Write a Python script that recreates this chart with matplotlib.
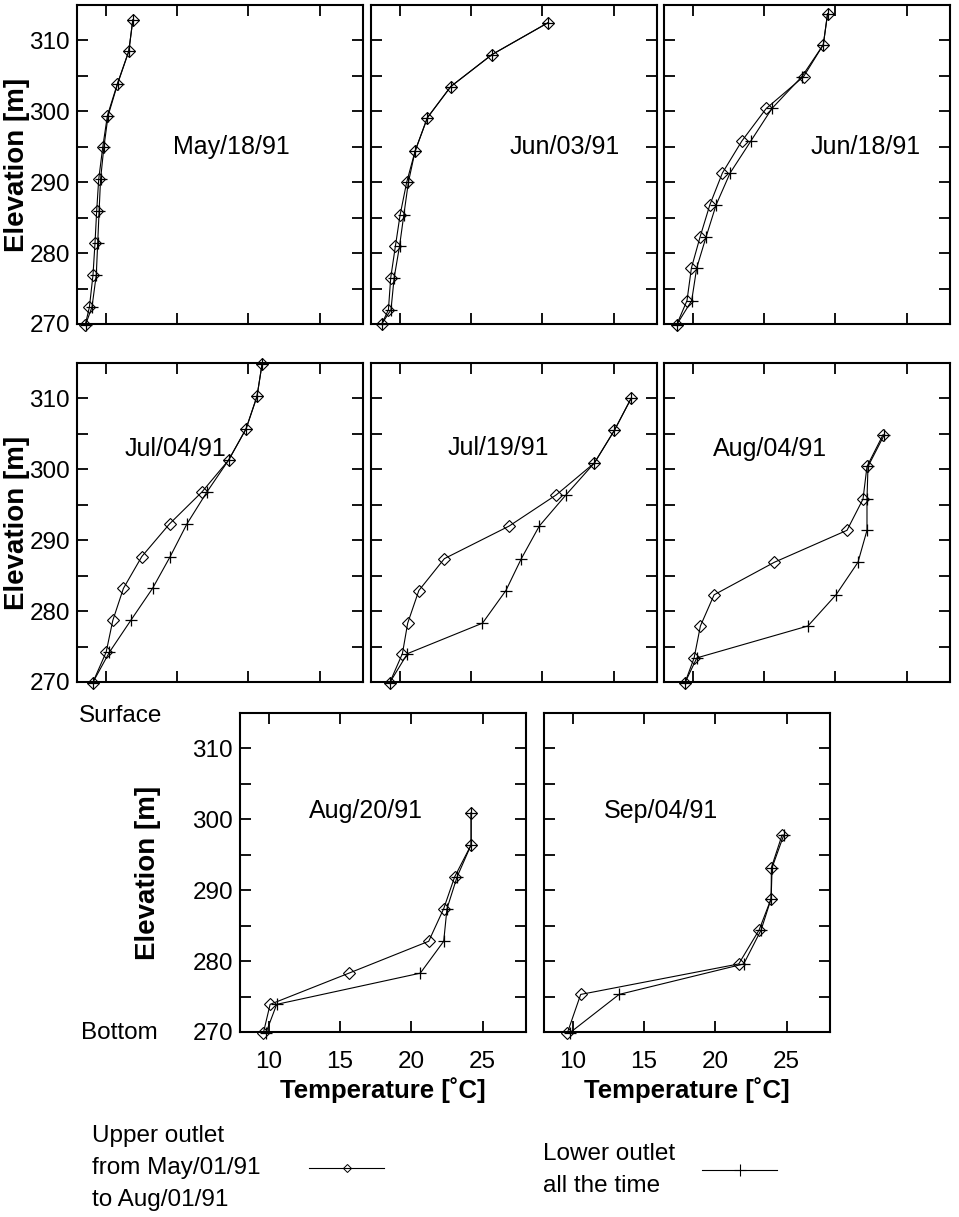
import numpy as np
import matplotlib
matplotlib.use("Agg")
import matplotlib.pyplot as plt
from matplotlib.lines import Line2D

plt.rcParams['font.family'] = ['Liberation Sans', 'DejaVu Sans']

# Temperature profiles [deg C] against elevation [m]
dates = ["May/18/91", "Jun/03/91", "Jun/18/91", "Jul/04/91",
         "Jul/19/91", "Aug/04/91", "Aug/20/91", "Sep/04/91"]

elev_may18 = [312.9, 308.5, 303.9, 299.4, 294.9, 290.4, 286.0, 281.4, 276.9, 272.4, 269.9]
upper_may18 = [11.91, 11.63, 10.83, 10.13, 9.80, 9.52, 9.38, 9.26, 9.12, 8.87, 8.58]
lower_may18 = [11.91, 11.63, 10.85, 10.18, 9.88, 9.65, 9.55, 9.45, 9.35, 9.05, 8.60]

elev_jun03 = [312.5, 308.0, 303.5, 299.1, 294.4, 290.0, 285.4, 281.0, 276.5, 272.0, 270.0]
upper_jun03 = [20.40, 16.47, 13.59, 11.95, 11.09, 10.50, 10.04, 9.71, 9.38, 9.22, 8.75]
lower_jun03 = [20.40, 16.47, 13.59, 11.95, 11.09, 10.62, 10.30, 10.00, 9.62, 9.40, 8.75]

elev_jun18 = [313.8, 309.4, 304.9, 300.4, 295.8, 291.3, 286.8, 282.3, 277.9, 273.3, 269.9]
upper_jun18 = [19.46, 19.16, 17.78, 15.16, 13.45, 12.09, 11.21, 10.53, 9.92, 9.61, 8.89]
lower_jun18 = [19.46, 19.16, 17.66, 15.56, 14.08, 12.63, 11.65, 10.95, 10.29, 9.94, 8.89]

elev_jul04 = [314.8, 310.3, 305.7, 301.3, 296.8, 292.3, 287.7, 283.2, 278.7, 274.2, 269.9]
upper_jul04 = [20.96, 20.61, 19.84, 18.62, 16.75, 14.48, 12.54, 11.25, 10.51, 10.04, 9.10]
lower_jul04 = [20.96, 20.61, 19.84, 18.62, 17.10, 15.70, 14.53, 13.29, 11.77, 10.27, 9.10]

elev_jul19 = [310.0, 305.5, 300.9, 296.4, 292.0, 287.4, 282.9, 278.3, 274.0, 269.9]
upper_jul19 = [26.22, 25.05, 23.65, 20.98, 17.68, 13.14, 11.35, 10.57, 10.20, 9.31]
lower_jul19 = [26.22, 25.05, 23.65, 21.66, 19.79, 18.53, 17.45, 15.81, 10.55, 9.31]

elev_aug04 = [304.9, 300.4, 295.8, 291.4, 286.9, 282.3, 277.9, 273.4, 269.9]
upper_aug04 = [23.35, 22.22, 21.94, 20.82, 15.74, 11.51, 10.55, 10.11, 9.47]
lower_aug04 = [23.44, 22.29, 22.22, 22.22, 21.59, 20.05, 18.08, 10.30, 9.47]

elev_aug20 = [300.9, 296.4, 291.9, 287.4, 282.8, 278.3, 273.9, 269.9]
upper_aug20 = [24.19, 24.19, 23.04, 22.27, 21.22, 15.63, 10.11, 9.64]
lower_aug20 = [24.19, 24.19, 23.21, 22.50, 22.27, 20.63, 10.57, 9.82]

elev_sep04 = [297.8, 293.2, 288.8, 284.4, 279.6, 275.3, 269.9]
upper_sep04 = [24.68, 23.93, 23.91, 23.07, 21.64, 10.57, 9.64]
lower_sep04 = [24.80, 23.98, 23.91, 23.21, 21.99, 13.26, 9.82]

temp_ticks = [10, 15, 20, 25]
elev_ticks = [270, 275, 280, 285, 290, 295, 300, 305, 310, 315]

profiles = [
    (elev_may18, upper_may18, lower_may18),
    (elev_jun03, upper_jun03, lower_jun03),
    (elev_jun18, upper_jun18, lower_jun18),
    (elev_jul04, upper_jul04, lower_jul04),
    (elev_jul19, upper_jul19, lower_jul19),
    (elev_aug04, upper_aug04, lower_aug04),
    (elev_aug20, upper_aug20, lower_aug20),
    (elev_sep04, upper_sep04, lower_sep04),
]

# where the date label sits inside each panel (data coords)
label_pos = [(18.8, 294.9), (21.6, 294.9), (22.15, 294.9), (14.9, 302.8),
             (16.9, 303.0), (15.45, 302.8), (16.8, 301.2), (16.2, 301.2)]

W, H = 959, 1217
fig = plt.figure(figsize=(W / 100, H / 100), dpi=100)

# panel boxes in pixels: left, top
boxes = [(77, 5), (371, 5), (664, 5),
         (77, 363), (371, 363), (664, 363),
         (240, 713), (544, 713)]
PW, PH = 285.5, 319


def add_panel(left, top):
    return fig.add_axes([left / W, 1 - (top + PH) / H, PW / W, PH / H])


def draw_profile(ax, elev, upper, lower, label, pos):
    ax.plot(lower, elev, color='black', lw=0.8, marker='+', ms=9, mew=0.9,
            clip_on=False)
    ax.plot(upper, elev, color='black', lw=0.8, marker='D', ms=6.3,
            mfc='none', mew=0.8, clip_on=False)
    ax.set_xlim(8, 28)
    ax.set_ylim(270, 315)
    ax.set_xticks(temp_ticks)
    ax.set_yticks(elev_ticks)
    ax.set_yticklabels([str(t) if t % 10 == 0 else '' for t in elev_ticks])
    ax.tick_params(direction='in', top=True, right=True, length=8,
                   width=1.3, labelsize=17.5)
    ax.tick_params(axis='x', pad=14)
    ax.tick_params(axis='y', pad=5)
    for s in ax.spines.values():
        s.set_linewidth(1.5)
    ax.text(pos[0], pos[1], label, fontsize=18, ha='center', va='center')


for i, (box, prof) in enumerate(zip(boxes, profiles)):
    ax = add_panel(*box)
    draw_profile(ax, prof[0], prof[1], prof[2], dates[i], label_pos[i])
    left_col = i in (0, 3, 6)
    bottom_row = i >= 6
    ax.tick_params(labelleft=left_col, labelbottom=bottom_row)
    if left_col:
        xoff = -0.322 if bottom_row else -0.21
        ax.text(xoff, 0.5, 'Elevation [m]', transform=ax.transAxes,
                rotation=90, ha='center', va='center', fontsize=20,
                fontweight='bold')
    if bottom_row:
        ax.set_xlabel('Temperature [˚C]', fontsize=18.5, fontweight='bold',
                      labelpad=3)

fig.text(79 / W, 1 - 716 / H, 'Surface', fontsize=17.5, ha='left', va='center')
fig.text(81 / W, 1 - 1033 / H, 'Bottom', fontsize=17.5, ha='left', va='center')

# legend entries, text first then the line sample
up_handle = Line2D([], [], color='black', lw=0.8, marker='D', ms=4.5,
                   mfc='none', mew=0.7)
lo_handle = Line2D([], [], color='black', lw=0.8, marker='+', ms=9, mew=0.8)

leg1 = fig.legend([up_handle], ['Upper outlet\nfrom May/01/91\nto Aug/01/91'],
                  loc='center left', bbox_to_anchor=(92 / W, 1 - 1168 / H),
                  frameon=False, markerfirst=False, fontsize=17.5,
                  handlelength=3.1, handletextpad=2.0, borderpad=0,
                  borderaxespad=0, numpoints=1)
leg2 = fig.legend([lo_handle], ['Lower outlet\nall the time'],
                  loc='center left', bbox_to_anchor=(543 / W, 1 - 1170 / H),
                  frameon=False, markerfirst=False, fontsize=17.5,
                  handlelength=3.1, handletextpad=1.1, borderpad=0,
                  borderaxespad=0, numpoints=1)
for leg in (leg1, leg2):
    for t in leg.get_texts():
        t.set_linespacing(1.6)

fig.savefig('out.png', dpi=100)
